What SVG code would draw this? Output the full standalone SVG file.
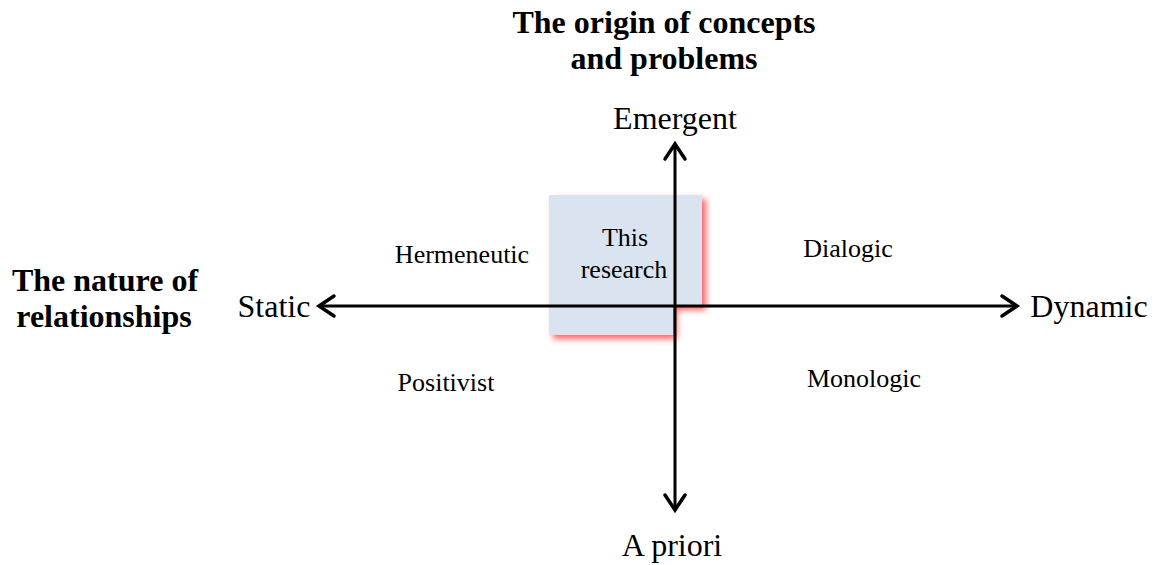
<svg xmlns="http://www.w3.org/2000/svg" width="1159" height="565" viewBox="0 0 1159 565">
  <defs>
    <filter id="redShadow" x="-20%" y="-20%" width="140%" height="140%">
      <feGaussianBlur in="SourceAlpha" stdDeviation="3" result="blur"/>
      <feOffset in="blur" dx="4" dy="4" result="off"/>
      <feFlood flood-color="#ff5a5a" flood-opacity="0.95"/>
      <feComposite in2="off" operator="in" result="shadow"/>
      <feMerge>
        <feMergeNode in="shadow"/>
        <feMergeNode in="SourceGraphic"/>
      </feMerge>
    </filter>
    <marker id="chevron" viewBox="0 0 26 26" refX="20" refY="13" markerWidth="26" markerHeight="26" markerUnits="userSpaceOnUse" orient="auto-start-reverse">
      <path d="M5,3 L20,13 L5,23" fill="none" stroke="#000" stroke-width="3.5" stroke-linejoin="miter" stroke-linecap="round"/>
    </marker>
  </defs>
  <style>
    text { font-family: "Liberation Serif", "Times New Roman", serif; fill: #000; }
    .title { font-size: 32px; font-weight: bold; }
    .pole { font-size: 32px; }
    .quad { font-size: 26px; }
    .axis { stroke: #000; stroke-width: 3; fill: none; }
  </style>

  <!-- highlighted region for this research -->
  <g id="node-this-research">
    <path d="M549,195 H702 V306 H673 V335 H549 Z" fill="#dae3f0" filter="url(#redShadow)"/>
    <text class="quad" x="625" y="246" text-anchor="middle">This</text>
    <text class="quad" x="624" y="278" text-anchor="middle">research</text>
  </g>

  <!-- axes -->
  <g id="connectors">
    <line class="axis" x1="319" y1="306" x2="1017" y2="306" marker-start="url(#chevron)" marker-end="url(#chevron)"/>
    <line class="axis" x1="675" y1="144" x2="675" y2="510" marker-start="url(#chevron)" marker-end="url(#chevron)"/>
  </g>

  <g id="node-vertical-title">
    <text class="title" x="664" y="33" text-anchor="middle">The origin of concepts</text>
    <text class="title" x="664" y="69" text-anchor="middle">and problems</text>
  </g>
  <g id="node-horizontal-title">
    <text class="title" x="105" y="291" text-anchor="middle">The nature of</text>
    <text class="title" x="104" y="327" text-anchor="middle">relationships</text>
  </g>

  <g id="node-emergent"><text class="pole" x="675" y="129" text-anchor="middle">Emergent</text></g>
  <g id="node-apriori"><text class="pole" x="672" y="556" text-anchor="middle">A priori</text></g>
  <g id="node-static"><text class="pole" x="274" y="317" text-anchor="middle">Static</text></g>
  <g id="node-dynamic"><text class="pole" x="1089" y="317" text-anchor="middle">Dynamic</text></g>

  <g id="node-hermeneutic"><text class="quad" x="462" y="263" text-anchor="middle">Hermeneutic</text></g>
  <g id="node-dialogic"><text class="quad" x="848" y="257" text-anchor="middle">Dialogic</text></g>
  <g id="node-positivist"><text class="quad" x="446" y="391" text-anchor="middle">Positivist</text></g>
  <g id="node-monologic"><text class="quad" x="864" y="387" text-anchor="middle">Monologic</text></g>
</svg>
